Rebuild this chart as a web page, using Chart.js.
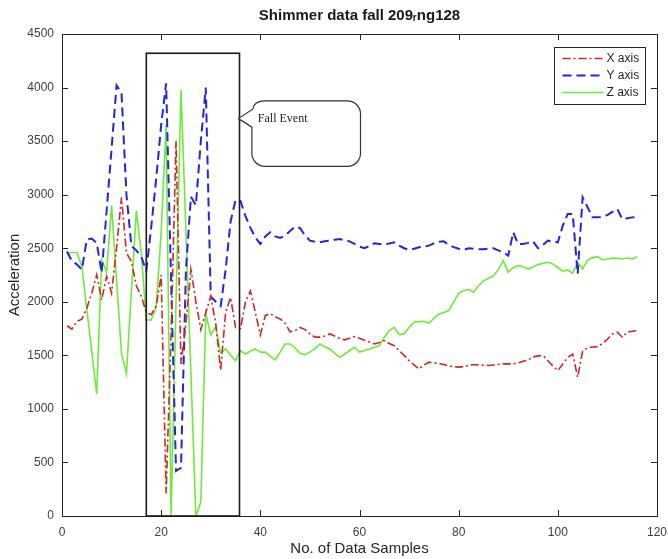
<!DOCTYPE html>
<html>
<head>
	<title>Shimmer data fall</title>
	<style>
		body { margin: 0; background: #fff; }
		#fallChart { display: block; }
	</style>
</head>
<body>
<canvas id="fallChart" width="668" height="559"></canvas>
<script src="https://cdn.jsdelivr.net/npm/chart.js@4.4.1/dist/chart.umd.min.js"></script>
<script>
// accelerometer readings, one per sample (1..116)
var X_AXIS = [
	1776, 1745, 1817, 1838, 1941, 2081, 2253, 2019, 2237, 2081,
	2500, 2975, 2455, 2377, 2150, 2050, 1900, 1880, 1960, 2250,
	210, 1700, 3500, 1420, 1800, 2300, 2000, 1740, 1900, 2050,
	1800, 1360, 1900, 2040, 1760, 1750, 2000, 2100, 1900, 1690,
	1870, 1890, 1860, 1840, 1800, 1720, 1730, 1760, 1740, 1700,
	1670, 1670, 1680, 1700, 1680, 1660, 1645, 1660, 1675, 1660,
	1640, 1625, 1606, 1620, 1638, 1610, 1590, 1544, 1500, 1450,
	1410, 1373, 1410, 1436, 1430, 1425, 1415, 1400, 1395, 1390,
	1395, 1405, 1414, 1410, 1408, 1405, 1410, 1415, 1420, 1420,
	1420, 1430, 1445, 1457, 1485, 1495, 1498, 1450, 1400, 1357,
	1420, 1480, 1512, 1295, 1540, 1570, 1578, 1581, 1610, 1650,
	1700, 1716, 1669, 1716, 1725, 1731
];
var Y_AXIS = [
	2470, 2380, 2350, 2300, 2580, 2590, 2550, 2270, 2850, 3430,
	4020, 3950, 3000, 2520, 2480, 2420, 2290, 2700, 3150, 3650,
	4040, 2200, 420, 450, 2300, 2980, 2900, 3500, 4000, 2050,
	2000, 1960, 2300, 2750, 2950, 2940, 2800, 2690, 2600, 2540,
	2610, 2649, 2610, 2596, 2617, 2660, 2701, 2689, 2620, 2571,
	2560, 2555, 2565, 2571, 2580, 2586, 2575, 2564, 2540, 2515,
	2500, 2520, 2546, 2540, 2531, 2545, 2555, 2524, 2500, 2484,
	2495, 2509, 2515, 2524, 2545, 2560, 2564, 2530, 2510, 2495,
	2484, 2500, 2495, 2490, 2490, 2495, 2500, 2480, 2462, 2431,
	2649, 2540, 2540, 2550, 2564, 2500, 2530, 2571, 2560, 2555,
	2711, 2820, 2820, 2260, 2975, 2882, 2788, 2788, 2795, 2810,
	2840, 2866, 2773, 2780, 2788, 2790
];
var Z_AXIS = [
	2450, 2460, 2460, 2330, 1930, 1535, 1140, 2390, 2280, 2900,
	2200, 1520, 1330, 2100, 2850, 2450, 1830, 1830, 1950, 2650,
	3650, 0, 1990, 3980, 2650, 1330, 0, 130, 1890, 1690,
	1770, 1520, 1560, 1500, 1450, 1544, 1512, 1540, 1560, 1530,
	1530, 1490, 1457, 1530, 1606, 1606, 1570, 1520, 1506, 1530,
	1560, 1606, 1580, 1560, 1520, 1482, 1510, 1545, 1575, 1530,
	1545, 1560, 1575, 1591, 1669, 1730, 1762, 1693, 1700, 1760,
	1809, 1815, 1818, 1800, 1845, 1887, 1900, 1918, 2000, 2080,
	2104, 2114, 2089, 2150, 2195, 2220, 2240, 2300, 2384, 2275,
	2320, 2338, 2328, 2306, 2325, 2347, 2360, 2368, 2353, 2320,
	2285, 2297, 2266, 2368, 2306, 2390, 2410, 2421, 2393, 2400,
	2409, 2405, 2400, 2409, 2400, 2421
];
var SERIES_NAMES = ['X axis', 'Y axis', 'Z axis'];
var X_TICKS = [0, 20, 40, 60, 80, 100, 120];
var Y_TICKS = [0, 500, 1000, 1500, 2000, 2500, 3000, 3500, 4000, 4500];
// fall event window (samples) and its height
var FALL_FROM = 17, FALL_TO = 35.8, FALL_TOP = 4320;

var SAMPLES = X_AXIS.map(function (v, k) { return k + 1; });
function pairs(arr) {
	return arr.map(function (v, k) { return { x: SAMPLES[k], y: v }; });
}

var INK = '#262626';
var SANS = '"Liberation Sans", Arial, sans-serif';

// matlab-like box, inward ticks, fall box + callout, legend
var decor = {
	id: 'decor',
	afterDatasetsDraw: function (chart) {
		var c = chart.ctx, a = chart.chartArea;
		var sx = chart.scales.x, sy = chart.scales.y;
		function seg(x1, y1, x2, y2) { c.beginPath(); c.moveTo(x1, y1); c.lineTo(x2, y2); c.stroke(); }
		c.save();
		c.strokeStyle = INK;
		c.lineWidth = 1;
		c.strokeRect(Math.round(a.left) + 0.5, Math.round(a.top) + 0.5, Math.round(a.right - a.left), Math.round(a.bottom - a.top));
		X_TICKS.forEach(function (v) {
			var px = Math.round(sx.getPixelForValue(v)) + 0.5;
			seg(px, a.bottom, px, a.bottom - 6);
			seg(px, a.top, px, a.top + 6);
		});
		Y_TICKS.forEach(function (v) {
			var py = Math.round(sy.getPixelForValue(v)) + 0.5;
			seg(a.left, py, a.left + 6, py);
			seg(a.right, py, a.right - 6, py);
		});

		// fall event rectangle
		c.lineWidth = 1.6;
		c.strokeStyle = '#1a1a1a';
		var bx0 = sx.getPixelForValue(FALL_FROM), bx1 = sx.getPixelForValue(FALL_TO);
		var by0 = sy.getPixelForValue(FALL_TOP), by1 = sy.getPixelForValue(0);
		c.strokeRect(bx0, by0, bx1 - bx0, by1 - by0);

		// callout bubble
		var L = sx.getPixelForValue(38.3), R = sx.getPixelForValue(60.2);
		var T = sy.getPixelForValue(3875), B = sy.getPixelForValue(3265);
		var tipX = sx.getPixelForValue(35.6), tipY = sy.getPixelForValue(3710);
		var pTop = sy.getPixelForValue(3800), pBot = sy.getPixelForValue(3630);
		var r = 13;
		c.lineWidth = 1.2;
		c.strokeStyle = '#333';
		c.fillStyle = '#fff';
		c.beginPath();
		c.moveTo(L + r, T);
		c.lineTo(R - r, T);
		c.arcTo(R, T, R, T + r, r);
		c.lineTo(R, B - r);
		c.arcTo(R, B, R - r, B, r);
		c.lineTo(L + r, B);
		c.arcTo(L, B, L, B - r, r);
		c.lineTo(L, pBot);
		c.lineTo(tipX, tipY);
		c.lineTo(L + 1, pTop);
		c.quadraticCurveTo(L + 2, T, L + r, T);
		c.closePath();
		c.fill();
		c.stroke();
		c.fillStyle = '#222';
		c.font = '12px "Liberation Serif", serif';
		c.textBaseline = 'middle';
		c.textAlign = 'left';
		c.fillText('Fall Event', sx.getPixelForValue(39.5), tipY);

		// legend, top right inside the axes
		var lw = 91, lh = 57;
		var lx = Math.round(a.right - 12 - lw) + 0.5, ly = Math.round(a.top + 13) + 0.5;
		c.fillStyle = '#fff';
		c.fillRect(lx, ly, lw, lh);
		c.strokeStyle = INK;
		c.lineWidth = 1;
		c.strokeRect(lx, ly, lw, lh);
		c.font = '12px ' + SANS;
		chart.data.datasets.forEach(function (ds, k) {
			var yy = ly + 11 + k * 17;
			c.strokeStyle = ds.borderColor;
			c.lineWidth = ds.borderWidth;
			c.setLineDash(ds.borderDash || []);
			seg(lx + 8, yy, lx + 49, yy);
			c.setLineDash([]);
			c.fillStyle = INK;
			c.fillText(ds.label, lx + 52, yy);
		});
		c.restore();
	}
};

function plain(v) { return String(v); }

var ctx = document.getElementById('fallChart').getContext('2d');
var fallChart = new Chart(ctx, {
	type: 'line',
	data: {
		datasets: [
			{ label: SERIES_NAMES[0], data: pairs(X_AXIS), borderColor: '#d42525', borderWidth: 1.6, borderDash: [8, 3, 2, 3] },
			{ label: SERIES_NAMES[1], data: pairs(Y_AXIS), borderColor: '#2222f2', borderWidth: 2, borderDash: [9, 5] },
			{ label: SERIES_NAMES[2], data: pairs(Z_AXIS), borderColor: '#6aee35', borderWidth: 1.6 }
		]
	},
	options: {
		responsive: false,
		animation: false,
		devicePixelRatio: 1,
		layout: { padding: { right: 0, left: 0, top: 0, bottom: 0 } },
		elements: { point: { radius: 0 }, line: { tension: 0 } },
		plugins: {
			legend: { display: false },
			tooltip: { enabled: false },
			title: {
				display: true,
				fullSize: false,
				text: 'Shimmer data fall 209\u1D63ng128',
				color: '#1a1a1a',
				font: { family: SANS, size: 15, weight: 'bold' },
				padding: { top: 7, bottom: 9 }
			}
		},
		scales: {
			x: {
				type: 'linear',
				min: 0, max: 120,
				grid: { display: false, drawTicks: false },
				border: { display: false },
				afterFit: function (s) { s.height = 43; s.paddingRight = 11; s.paddingLeft = 0; },
				afterBuildTicks: function (s) { s.ticks = X_TICKS.map(function (v) { return { value: v }; }); },
				ticks: { padding: 9, color: '#404040', font: { family: SANS, size: 12 }, maxRotation: 0, callback: plain },
				title: { display: true, text: 'No. of Data Samples', color: INK, padding: { top: 0, bottom: 1 }, font: { family: SANS, size: 15 } }
			},
			y: {
				min: 0, max: 4500,
				grid: { display: false, drawTicks: false },
				border: { display: false },
				afterFit: function (s) { s.width = 62; },
				afterBuildTicks: function (s) { s.ticks = Y_TICKS.map(function (v) { return { value: v }; }); },
				ticks: { padding: 8, color: '#404040', font: { family: SANS, size: 12 }, callback: plain },
				title: { display: true, text: 'Acceleration', color: INK, padding: { top: 6, bottom: 0 }, font: { family: SANS, size: 15 } }
			}
		}
	},
	plugins: [decor]
});
</script>
</body>
</html>
